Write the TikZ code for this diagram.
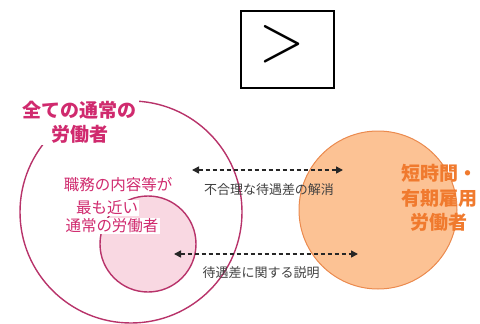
\documentclass[tikz,border=0pt]{standalone}
\usepackage{fontspec}
\newfontfamily\cjk{Noto Sans CJK JP}
\usetikzlibrary{arrows.meta}
\definecolor{pinkline}{HTML}{B8336A}
\definecolor{pinktext}{HTML}{D02A6E}
\definecolor{pinkfill}{HTML}{F9D8E2}
\definecolor{orangefill}{HTML}{FCC294}
\definecolor{orangeline}{HTML}{EB8A4E}
\definecolor{orangetext}{HTML}{F07A2E}
\definecolor{labelgray}{HTML}{404040}
\tikzset{
  ring/.style={circle, inner sep=0pt, draw=pinkline, line width=1.4pt},
  titletext/.style={font=\cjk\fontsize{19}{24}\selectfont\bfseries, text=pinktext, align=center, fill=white, inner sep=2pt},
  innertext/.style={font=\cjk\fontsize{15.5}{19}\selectfont, text=pinktext, fill=white, inner sep=1pt},
  orangelabel/.style={font=\cjk\fontsize{19}{24.5}\selectfont\bfseries, text=orangetext, align=center},
  dasharrow/.style={draw=black!85, line width=1.6pt, dash pattern=on 4pt off 3pt, {Triangle[length=7pt,width=7pt]}-{Triangle[length=7pt,width=7pt]}},
  arrowlabel/.style={font=\cjk\fontsize{13}{15}\selectfont, text=labelgray},
  compbox/.style={draw=black, line width=2pt, inner sep=0pt}
}
\begin{document}
\begin{tikzpicture}[x=1pt, y=-1pt]
\useasboundingbox (0,0) rectangle (480,324);
% circles
\node[ring, fill=white, minimum size=222pt] (big) at (131,212) {};
\node[ring, fill=pinkfill, minimum size=96pt] (small) at (148,244) {};
\node[circle, inner sep=0pt, draw=orangeline, line width=1pt, fill=orangefill, minimum size=158pt] (orange) at (378,210) {};
% texts
\node[titletext] (title) at (80,122) {全ての通常の\\労働者};
\node[innertext] (in1) at (118,185) {職務の内容等が};
\node[innertext] (in2) at (107,208) {最も近い};
\node[innertext] (in3) at (112,226) {通常の労働者};
\node[orangelabel] (part) at (439,198) {短時間・\\有期雇用\\労働者};
% arrows
\coordinate (a1l) at (192,170);
\coordinate (a1r) at (343,170);
\coordinate (a2l) at (174,254);
\coordinate (a2r) at (358,254);
\draw[dasharrow] (a1l) -- (a1r);
\draw[dasharrow] (a2l) -- (a2r);
\node[arrowlabel] (lab1) at (269,190) {不合理な待遇差の解消};
\node[arrowlabel] (lab2) at (261,273) {待遇差に関する説明};
% comparison box
\draw[black, line width=2pt] (241,11) rectangle (334,88);
\node[inner sep=0pt] (gt) at (282,44) {\scalebox{5.8}[6.5]{$>$}};
\end{tikzpicture}
\end{document}
